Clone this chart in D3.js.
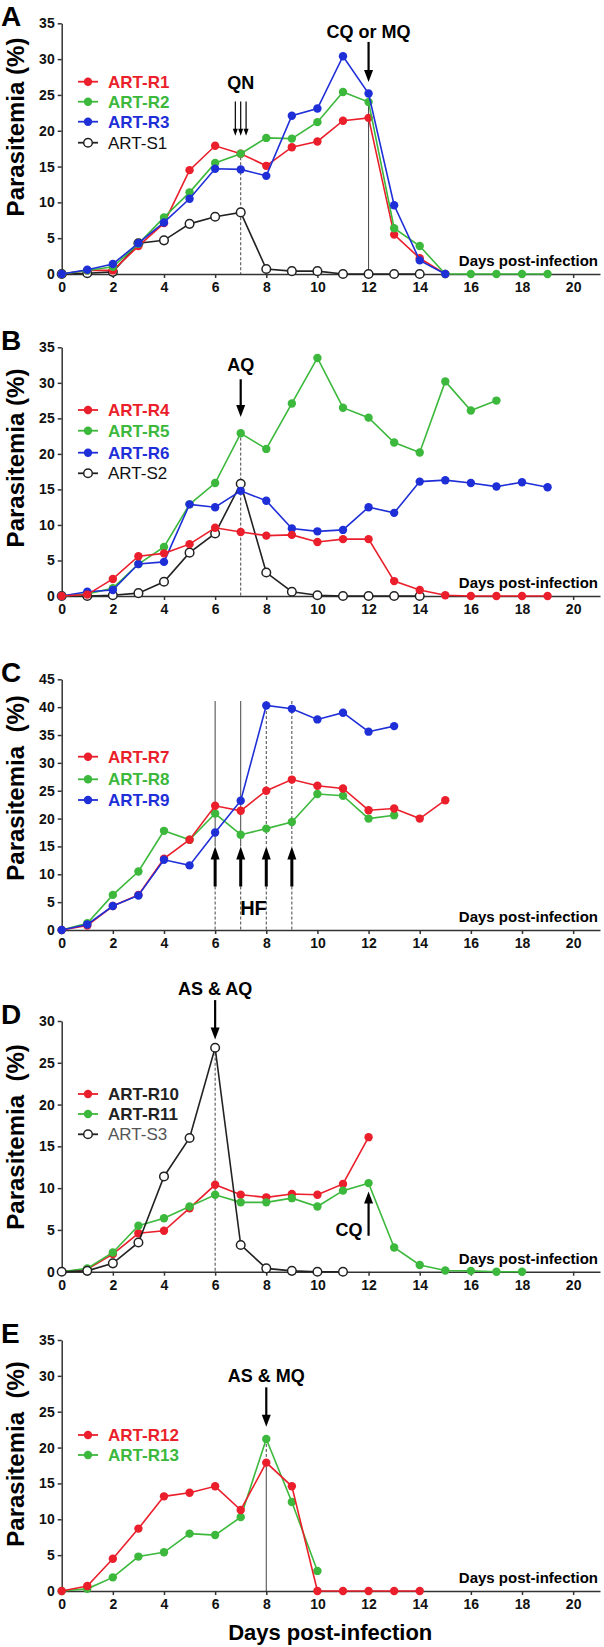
<!DOCTYPE html>
<html>
<head>
<meta charset="utf-8">
<script src="https://cdn.jsdelivr.net/npm/d3@7"></script>
<style>
  body { margin: 0; background: #fff; }
  svg { display: block; font-family: "Liberation Sans", Arial, sans-serif; }
  .axis text { font: bold 14px "Liberation Sans", Arial, sans-serif; fill: #111; }
  .axis path, .axis line { stroke: #333; stroke-width: 1.5px; }
</style>
</head>
<body>
<div id="chart"></div>
<script>
// values, one entry per day starting at day 0
var xTicks = [0, 2, 4, 6, 8, 10, 12, 14, 16, 18, 20];

var artR1 = [0, 0.5, 0.5, 3.9, 7.1, 14.5, 17.9, 16.8, 15.1, 17.7, 18.5, 21.4, 21.8, 5.5, 2.2, 0];
var artR2 = [0, 0.5, 1.0, 4.2, 7.9, 11.4, 15.5, 16.8, 19.0, 18.9, 21.2, 25.4, 24.0, 6.4, 3.9, 0, 0, 0, 0, 0];
var artR3 = [0, 0.6, 1.4, 4.3, 7.2, 10.5, 14.7, 14.6, 13.7, 22.1, 23.1, 30.4, 25.2, 9.6, 1.9, 0];
var artS1 = [0, 0.1, 0.3, 4.3, 4.7, 7.0, 8.0, 8.6, 0.7, 0.4, 0.4, 0, 0, 0, 0];

var artR4 = [0, 0.2, 2.4, 5.6, 6.0, 7.3, 9.6, 9.0, 8.5, 8.6, 7.6, 8.0, 8.0, 2.1, 0.85, 0.1, 0, 0, 0, 0];
var artR5 = [0, 0.3, 1.1, 4.5, 6.9, 12.9, 15.9, 22.9, 20.7, 27.1, 33.5, 26.5, 25.1, 21.6, 20.2, 30.2, 26.1, 27.5];
var artR6 = [0, 0.6, 0.85, 4.5, 4.8, 12.9, 12.5, 14.8, 13.4, 9.5, 9.1, 9.3, 12.5, 11.7, 16.1, 16.3, 15.9, 15.4, 16.0, 15.3];
var artS2 = [0, 0, 0.1, 0.4, 2.0, 6.1, 8.8, 15.8, 3.3, 0.6, 0.1, 0, 0, 0, 0];

var artR7 = [0, 0.8, 4.3, 6.3, 12.8, 16.2, 22.3, 21.4, 25.0, 27.0, 25.9, 25.4, 21.5, 21.8, 20.0, 23.3];
var artR8 = [0, 1.2, 6.3, 10.5, 17.8, 16.2, 20.9, 17.1, 18.2, 19.4, 24.4, 24.1, 20.0, 20.6];
var artR9 = [0, 1.0, 4.3, 6.2, 12.6, 11.6, 17.5, 23.2, 40.3, 39.7, 37.8, 39.0, 35.6, 36.6];

var artR10 = [0, 0.3, 2.1, 4.6, 4.9, 7.6, 10.4, 9.2, 8.9, 9.3, 9.2, 10.5, 16.1];
var artR11 = [0, 0.4, 2.3, 5.5, 6.4, 7.8, 9.2, 8.3, 8.3, 8.8, 7.8, 9.7, 10.6, 2.9, 0.8, 0.15, 0.1, 0, 0];
var artS3 = [0, 0.1, 1.0, 3.5, 11.4, 16.0, 26.8, 3.2, 0.4, 0.1, 0, 0];

var artR12 = [0, 0.7, 4.5, 8.7, 13.2, 13.7, 14.6, 11.3, 17.9, 14.6, 0, 0, 0, 0, 0];
var artR13 = [0, 0.3, 1.9, 4.8, 5.4, 8.0, 7.8, 10.3, 21.2, 12.4, 2.8];

var RED = "#ea1f2b", GREEN = "#3cb83c", BLUE = "#1f2fd8";

var svg = d3.select("#chart").append("svg")
    .attr("width", 604)
    .attr("height", 1647);

var x = d3.scaleLinear().domain([0, 21.05]).range([61.7, 600]);

function arrow(g, xp, yFrom, yTo, w, headW, headL) {
  var dir = yTo > yFrom ? 1 : -1;
  g.append("line")
      .attr("x1", xp).attr("x2", xp)
      .attr("y1", yFrom).attr("y2", yTo - dir * headL * 0.8)
      .attr("stroke", "#000").attr("stroke-width", w);
  g.append("path")
      .attr("d", "M" + (xp - headW / 2) + "," + (yTo - dir * headL) +
                 "L" + (xp + headW / 2) + "," + (yTo - dir * headL) +
                 "L" + xp + "," + yTo + "Z")
      .attr("fill", "#000");
}

function vline(g, y, day, v1, v2, dashed) {
  g.append("line")
      .attr("x1", x(day)).attr("x2", x(day))
      .attr("y1", y(v1)).attr("y2", y(v2))
      .attr("stroke", "#444").attr("stroke-width", 1)
      .attr("stroke-dasharray", dashed ? "3,2" : null);
}

function drawPanel(p) {
  var g = svg.append("g");
  var y = d3.scaleLinear().domain([0, p.yMax]).range([p.bottom, p.top]);

  // annotations behind the data
  if (p.under) p.under(g, y);

  g.append("g")
      .attr("class", "axis")
      .attr("transform", "translate(" + x(0) + ",0)")
      .call(d3.axisLeft(y).tickValues(d3.range(0, p.yMax + 1, 5)).tickSize(4).tickPadding(3).tickSizeOuter(0));

  g.append("g")
      .attr("class", "axis")
      .attr("transform", "translate(0," + p.bottom + ")")
      .call(d3.axisBottom(x).tickValues(xTicks).tickSize(4).tickPadding(4).tickSizeOuter(0));

  var line = d3.line()
      .x(function(d, i) { return x(i); })
      .y(function(d) { return y(d); });

  p.series.forEach(function(s) {
    g.append("path")
        .attr("d", line(s.values))
        .attr("fill", "none")
        .attr("stroke", s.open ? "#222" : s.color)
        .attr("stroke-width", 1.6);
    g.selectAll(null)
        .data(s.values)
      .enter().append("circle")
        .attr("cx", function(d, i) { return x(i); })
        .attr("cy", function(d) { return y(d); })
        .attr("r", s.open ? 4.3 : 4.2)
        .attr("fill", s.open ? "#fff" : s.color)
        .attr("stroke", s.open ? "#222" : "none")
        .attr("stroke-width", 1.5);
  });

  // legend
  var leg = g.append("g");
  p.legend.forEach(function(s, i) {
    var ly = p.legendY[i];
    leg.append("line")
        .attr("x1", 78).attr("x2", 98).attr("y1", ly).attr("y2", ly)
        .attr("stroke", s.open ? "#222" : s.color).attr("stroke-width", 1.8);
    leg.append("circle")
        .attr("cx", 88).attr("cy", ly).attr("r", s.open ? 4.3 : 4.2)
        .attr("fill", s.open ? "#fff" : s.color)
        .attr("stroke", s.open ? "#222" : "none").attr("stroke-width", 1.5);
    leg.append("text")
        .attr("x", 108).attr("y", ly).attr("dy", "0.36em")
        .style("font-size", "17px")
        .style("font-weight", s.bold ? "bold" : "normal")
        .attr("fill", s.textColor)
        .text(s.name);
  });

  if (p.over) p.over(g, y);

  g.append("text")
      .attr("x", 598).attr("y", p.bottom - 8)
      .attr("text-anchor", "end")
      .style("font", "bold 15px 'Liberation Sans', Arial, sans-serif")
      .text("Days post-infection");

  g.append("text")
      .attr("x", 1).attr("y", p.top + 3)
      .style("font", "bold 28px 'Liberation Sans', Arial, sans-serif")
      .text(p.letter);

  g.append("text")
      .attr("transform", "translate(15," + p.labelY + ") rotate(-90)")
      .attr("text-anchor", "middle")
      .attr("dy", "0.36em")
      .style("font", "bold 24px 'Liberation Sans', Arial, sans-serif")
      .style("white-space", "pre")
      .text(p.label);
}

function title(g, xp, yp, txt, size) {
  g.append("text")
      .attr("x", xp).attr("y", yp)
      .attr("text-anchor", "middle")
      .style("font", "bold " + size + "px 'Liberation Sans', Arial, sans-serif")
      .text(txt);
}

var sR1 = {name: "ART-R1", values: artR1, color: RED, bold: true, textColor: RED};
var sR2 = {name: "ART-R2", values: artR2, color: GREEN, bold: true, textColor: GREEN};
var sR3 = {name: "ART-R3", values: artR3, color: BLUE, bold: true, textColor: BLUE};
var sS1 = {name: "ART-S1", values: artS1, open: true, textColor: "#111"};

drawPanel({
  letter: "A", top: 23.3, bottom: 274, yMax: 35, labelY: 127, label: "Parasitemia (%)",
  series: [sS1, sR1, sR2, sR3],
  legend: [sR1, sR2, sR3, sS1],
  legendY: [81.7, 101.7, 121.7, 142.7],
  under: function(g, y) {
    vline(g, y, 7, 17, 0, true);
    vline(g, y, 12, 24.5, 0, false);
  },
  over: function(g, y) {
    [-0.21, 0, 0.21].forEach(function(o) {
      arrow(g, x(7 + o), y(24.1), y(19.3), 1.2, 5, 7);
    });
    title(g, x(7), y(25.8), "QN", 18);
    arrow(g, x(12), y(32.4), y(26.8), 2.2, 9, 12);
    title(g, x(12), y(33.0), "CQ or MQ", 18);
  }
});

var sR4 = {name: "ART-R4", values: artR4, color: RED, bold: true, textColor: RED};
var sR5 = {name: "ART-R5", values: artR5, color: GREEN, bold: true, textColor: GREEN};
var sR6 = {name: "ART-R6", values: artR6, color: BLUE, bold: true, textColor: BLUE};
var sS2 = {name: "ART-S2", values: artS2, open: true, textColor: "#111"};

drawPanel({
  letter: "B", top: 347.3, bottom: 596, yMax: 35, labelY: 458, label: "Parasitemia (%)",
  series: [sS2, sR5, sR6, sR4],
  legend: [sR4, sR5, sR6, sS2],
  legendY: [410, 430.7, 452.7, 473.3],
  under: function(g, y) {
    vline(g, y, 7, 23, 0, true);
  },
  over: function(g, y) {
    arrow(g, x(7), y(30.5), y(25.2), 2.2, 9, 12);
    title(g, x(7), y(31.6), "AQ", 18);
  }
});

var sR7 = {name: "ART-R7", values: artR7, color: RED, bold: true, textColor: RED};
var sR8 = {name: "ART-R8", values: artR8, color: GREEN, bold: true, textColor: GREEN};
var sR9 = {name: "ART-R9", values: artR9, color: BLUE, bold: true, textColor: BLUE};

drawPanel({
  letter: "C", top: 679.3, bottom: 930, yMax: 45, labelY: 788, label: "Parasitemia  (%)",
  series: [sR8, sR7, sR9],
  legend: [sR7, sR8, sR9],
  legendY: [756.7, 779.3, 800],
  under: function(g, y) {
    [6, 7, 8, 9].forEach(function(d) {
      vline(g, y, d, 41.1, 15, d > 7);
      vline(g, y, d, 7.8, 0, true);
    });
  },
  over: function(g, y) {
    [6, 7, 8, 9].forEach(function(d) {
      arrow(g, x(d), y(7.8), y(15.0), 3, 9, 13);
    });
    title(g, x(7.5), y(2.7), "HF", 20);
  }
});

var sR10 = {name: "ART-R10", values: artR10, color: RED, bold: true, textColor: "#222"};
var sR11 = {name: "ART-R11", values: artR11, color: GREEN, bold: true, textColor: "#222"};
var sS3 = {name: "ART-S3", values: artS3, open: true, textColor: "#555"};

drawPanel({
  letter: "D", top: 1021, bottom: 1271.7, yMax: 30, labelY: 1137, label: "Parasitemia  (%)",
  series: [sR10, sR11, sS3],
  legend: [sR10, sR11, sS3],
  legendY: [1094, 1114, 1134.3],
  under: function(g, y) {
    vline(g, y, 6, 26.8, 0, true);
  },
  over: function(g, y) {
    arrow(g, x(6), y(32.5), y(27.8), 2.2, 9, 12);
    title(g, x(6), y(33.1), "AS & AQ", 18);
    arrow(g, x(12), y(4.3), y(9.6), 2.2, 9, 12);
    g.append("text")
        .attr("x", x(12) - 6).attr("y", y(4.3))
        .attr("text-anchor", "end")
        .style("font", "bold 18px 'Liberation Sans', Arial, sans-serif")
        .text("CQ");
  }
});

var sR12 = {name: "ART-R12", values: artR12, color: RED, bold: true, textColor: RED};
var sR13 = {name: "ART-R13", values: artR13, color: GREEN, bold: true, textColor: GREEN};

drawPanel({
  letter: "E", top: 1340, bottom: 1591, yMax: 35, labelY: 1454, label: "Parasitemia  (%)",
  series: [sR13, sR12],
  legend: [sR12, sR13],
  legendY: [1435, 1455],
  under: function(g, y) {
    vline(g, y, 8, 21.2, 18, true);
    vline(g, y, 8, 18, 0, false);
  },
  over: function(g, y) {
    arrow(g, x(8), y(28.4), y(22.9), 2.2, 9, 12);
    title(g, x(8), y(29.2), "AS & MQ", 18);
  }
});

svg.append("text")
    .attr("x", x(10.5)).attr("y", 1640)
    .attr("text-anchor", "middle")
    .style("font", "bold 22px 'Liberation Sans', Arial, sans-serif")
    .text("Days post-infection");
</script>
</body>
</html>
